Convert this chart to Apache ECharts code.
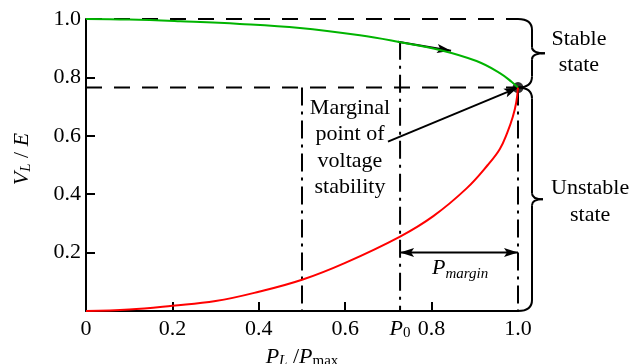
<!DOCTYPE html>
<html lang="en">
<head>
<meta charset="UTF-8">
<title>PV curve</title>
<script src="https://cdn.jsdelivr.net/npm/echarts@6/dist/echarts.min.js"></script>
<style>
  html, body { margin: 0; padding: 0; background: #fff; }
  #chart { width: 630px; height: 364px; }
</style>
</head>
<body>
<div id="chart"></div>
<script>
// stable (upper) branch, P_L/P_max -> V_L/E
var upperX = [0, 0.1, 0.218, 0.356, 0.495, 0.634, 0.722, 0.819, 0.904, 0.958, 0.985, 1.0];
var upperY = [1.0, 0.998, 0.992, 0.983, 0.969, 0.944, 0.922, 0.894, 0.856, 0.815, 0.785, 0.765];
// unstable (lower) branch
var lowerX = [0, 0.1, 0.2, 0.3, 0.4, 0.5, 0.6, 0.727, 0.804, 0.881, 0.93, 0.958, 0.975, 0.988, 0.996, 1.0];
var lowerY = [0, 0.005, 0.018, 0.034, 0.066, 0.107, 0.165, 0.255, 0.325, 0.42, 0.5, 0.555, 0.61, 0.665, 0.715, 0.765];

// key points
var noseP = 1.0, noseV = 0.765;
var p0 = 0.727, p0Top = 0.922;
var refP = 0.5;

// axis ticks / labels
var xTicks = [0.2, 0.4, 0.6, 0.8];
var yTicks = [0.2, 0.4, 0.6, 0.8];
var xLabelValues = [0, 0.2, 0.4, 0.6, p0, 0.8, 1.0];
var yLabelValues = [0.2, 0.4, 0.6, 0.8, 1.0];

// annotations (data coords)
var stableArrow = [[0.722, 0.922], [0.845, 0.891]];
var marginalArrow = [[0.699, 0.58], [noseP, noseV]];
var marginY = 0.2;
var stableText = [1.141, 0.887];
var unstableText = [1.167, 0.375];
var marginalText = [0.611, 0.56];
var pmarginText = [0.866, 0.147];

var FONT = 'Liberation Serif';

function pairs(xs, ys) {
    return xs.map(function (x, i) { return [x, ys[i]]; });
}

function guide(data, type) {
    return {
        type: 'line', data: data, symbol: 'none', silent: true, animation: false,
        lineStyle: { color: '#000', width: 2, type: type }
    };
}

function arrowHead(tip, from, len, half) {
    var dx = tip[0] - from[0], dy = tip[1] - from[1];
    var d = Math.sqrt(dx * dx + dy * dy);
    var ux = dx / d, uy = dy / d;
    var bx = tip[0] - ux * len, by = tip[1] - uy * len;
    return {
        type: 'polygon',
        shape: { points: [tip, [bx - uy * half, by + ux * half], [bx + ux * 3, by + uy * 3], [bx + uy * half, by - ux * half]] },
        style: { fill: '#000' }
    };
}

function seg(a, b) {
    return { type: 'line', shape: { x1: a[0], y1: a[1], x2: b[0], y2: b[1] }, style: { stroke: '#000', lineWidth: 2 } };
}

function bez(a, c, b) {
    return {
        type: 'bezierCurve',
        shape: { x1: a[0], y1: a[1], cpx1: c[0], cpy1: c[1], x2: b[0], y2: b[1] },
        style: { stroke: '#000', lineWidth: 2, fill: null }
    };
}

function brace(xL, yT, yB, bar, tipW, r, r2) {
    var xb = xL + bar, tip = xL + tipW, ym = (yT + yB) / 2;
    return [
        bez([xL, yT], [xb, yT], [xb, yT + r]),
        seg([xb, yT + r], [xb, ym - r2]),
        bez([xb, ym - r2], [xb, ym], [tip, ym]),
        bez([tip, ym], [xb, ym], [xb, ym + r2]),
        seg([xb, ym + r2], [xb, yB - r]),
        bez([xb, yB - r], [xb, yB], [xL, yB])
    ];
}

function txt(pos, text, extra) {
    var st = {
        text: text, x: pos[0], y: pos[1], align: 'center', verticalAlign: 'middle',
        font: '22px "Liberation Serif"', lineHeight: 26.5, fill: '#000'
    };
    for (var k in extra) st[k] = extra[k];
    return { type: 'text', style: st };
}

var subRich = {
    i: { fontFamily: FONT, fontSize: 22, fontStyle: 'italic', color: '#000' },
    s: { fontFamily: FONT, fontSize: 15, fontStyle: 'italic', color: '#000', verticalAlign: 'bottom', padding: [8, 0, 0, 0] },
    u: { fontFamily: FONT, fontSize: 15, color: '#000', verticalAlign: 'bottom', padding: [8, 0, 0, 0] },
    n: { fontFamily: FONT, fontSize: 22, color: '#000' }
};

var chart = echarts.init(document.getElementById('chart'), null, { renderer: 'canvas' });

var option = {
    animation: false,
    textStyle: { fontFamily: FONT, color: '#000' },
    grid: { left: 86, right: 112, top: 19, bottom: 53, containLabel: false, outerBoundsMode: 'none' },
    xAxis: {
        type: 'value', min: 0, max: 1, interval: 0.2,
        splitLine: { show: false },
        axisLine: { lineStyle: { color: '#000', width: 2 } },
        axisTick: { show: true, inside: true, length: 9, customValues: xTicks, lineStyle: { color: '#000', width: 2 } },
        axisLabel: {
            customValues: xLabelValues, margin: 7, color: '#000', fontFamily: FONT, fontSize: 22,
            formatter: function (v) {
                if (Math.abs(v - p0) < 1e-6) return '{i|P}{u|0}';
                return '{n|' + (v === 0 ? '0' : v.toFixed(1)) + '}';
            },
            rich: subRich
        },
        name: '{i|P}{s|L}{n| /}{i|P}{u|max}',
        nameLocation: 'middle', nameGap: 28,
        nameTextStyle: { rich: subRich }
    },
    yAxis: {
        type: 'value', min: 0, max: 1, interval: 0.2,
        splitLine: { show: false },
        axisLine: { lineStyle: { color: '#000', width: 2 } },
        axisTick: { show: true, inside: true, length: 9, customValues: yTicks, lineStyle: { color: '#000', width: 2 } },
        axisLabel: {
            customValues: yLabelValues, margin: 5, color: '#000', fontFamily: FONT, fontSize: 22,
            formatter: function (v) { return '{n|' + v.toFixed(1) + '}'; },
            rich: subRich
        },
        name: '{i|V}{s|L}{n| / }{i|E}',
        nameLocation: 'middle', nameGap: 52,
        nameTextStyle: { rich: subRich, padding: [0, 0, 0, 12] }
    },
    series: [
        guide([[0, 1], [noseP, 1]], [16, 12]),
        guide([[0, noseV], [noseP, noseV]], [16, 12]),
        guide([[refP, noseV], [refP, 0]], [18, 6, 3, 6]),
        guide([[p0, p0Top], [p0, 0]], [18, 6, 3, 6]),
        guide([[noseP, noseV], [noseP, 0]], [18, 6, 3, 6]),
        {
            type: 'scatter', data: [[noseP, noseV]], symbol: 'circle', symbolSize: 11,
            itemStyle: { color: '#000' }, silent: true
        },
        {
            type: 'line', data: pairs(upperX, upperY), smooth: 0.4, symbol: 'none',
            lineStyle: { color: '#00b400', width: 2 }
        },
        {
            type: 'line', data: pairs(lowerX, lowerY), smooth: 0.4, symbol: 'none',
            lineStyle: { color: '#ff0000', width: 2 }
        },
        {
            type: 'custom', data: [[0, 0]], silent: true,
            renderItem: function (params, api) {
                var nose = api.coord([noseP, noseV]);
                var top = api.coord([noseP, 1]);
                var bottom = api.coord([noseP, 0]);
                var children = [];
                children = children.concat(brace(nose[0], top[1], nose[1], 14, 27, 11, 6));
                children = children.concat(brace(nose[0], nose[1], bottom[1], 14, 25, 11, 6));

                var a0 = api.coord(stableArrow[0]), a1 = api.coord(stableArrow[1]);
                children.push(seg(a0, a1), arrowHead(a1, a0, 14, 4.5));

                var m0 = api.coord(marginalArrow[0]), m1 = api.coord(marginalArrow[1]);
                children.push(seg(m0, m1), arrowHead(m1, m0, 14, 4.5));

                var l = api.coord([p0, marginY]), r = api.coord([noseP, marginY]);
                children.push(seg(l, r), arrowHead(l, r, 14, 4.5), arrowHead(r, l, 14, 4.5));

                children.push(txt(api.coord(stableText), 'Stable\nstate'));
                children.push(txt(api.coord(unstableText), 'Unstable\nstate'));
                children.push(txt(api.coord(marginalText), 'Marginal\npoint of\nvoltage\nstability'));
                children.push(txt(api.coord(pmarginText), '{i|P}{s|margin}', {
                    rich: {
                        i: { font: 'italic 22px "Liberation Serif"', fill: '#000' },
                        s: { font: 'italic 15px "Liberation Serif"', fill: '#000', verticalAlign: 'bottom', padding: [8, 0, 0, 0] }
                    }
                }));
                return { type: 'group', children: children };
            }
        }
    ]
};

chart.setOption(option);
</script>
</body>
</html>
